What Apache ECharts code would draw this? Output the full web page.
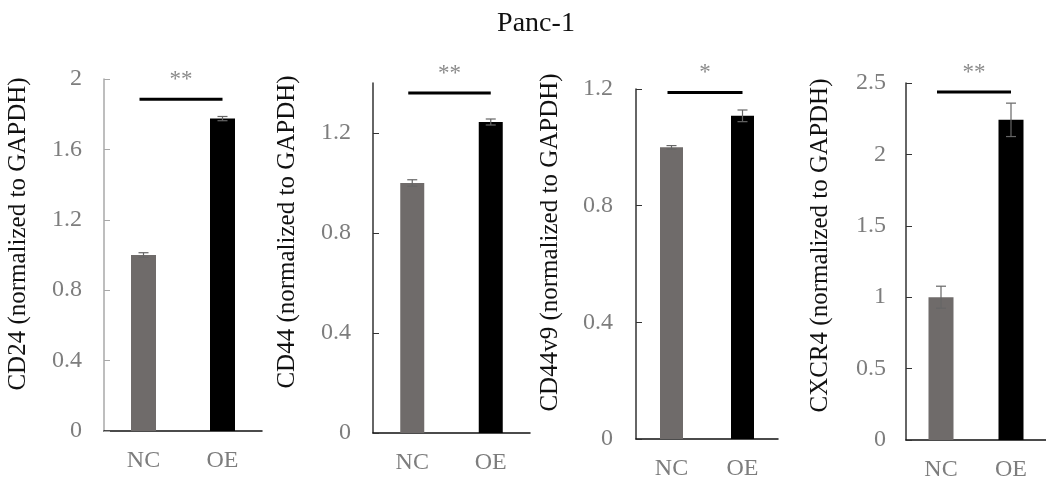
<!DOCTYPE html>
<html lang="en">
<head>
    <meta charset="UTF-8">
    <title>Panc-1</title>
    <script src="https://cdn.jsdelivr.net/npm/echarts@6/dist/echarts.min.js" type="text/javascript"></script>
</head>
<body style="margin:0;background:#fff;">
<div id="chart" style="width:1046px;height:482px;"></div>

<script>
    // data
    var categories = ['NC', 'OE'];
    var genes = ['CD24', 'CD44', 'CD44v9', 'CXCR4'];
    var ncMean = [1.0, 1.0, 1.0, 1.0];
    var oeMean = [1.775, 1.244, 1.108, 2.242];
    var ncErr = [0.013, 0.013, 0.006, 0.077];
    var oeErr = [0.012, 0.012, 0.02, 0.117];
    var sigY = [1.885, 1.36, 1.188, 2.437];
    var sigMark = ['**', '**', '*', '**'];
    var yMax = [2, 1.4, 1.2, 2.5];
    var yInterval = [0.4, 0.4, 0.4, 0.5];

    // panel layout (px)
    var grids = [
        {left: 104, top: 79, width: 158, height: 352},
        {left: 373, top: 83, width: 157, height: 350},
        {left: 636, top: 89, width: 142, height: 350},
        {left: 906, top: 83, width: 149, height: 359}
    ];
    var nameShift = [42, 52, 43, 32];
    var labelMargin = [22, 22, 23, 20];
    var barW = [25, 24, 23, 25];
    var yLineColor = ['#a8a8a8', '#333', '#333', '#333'];

    var serif = 'Liberation Serif';
    var tickGray = '#7d7d7d';

    var option = {
        animation: false,
        title: {
            text: 'Panc-1',
            left: 531,
            top: 5,
            textAlign: 'center',
            textStyle: {fontFamily: serif, fontWeight: 'normal', fontSize: 28, color: '#111'}
        },
        grid: [],
        xAxis: [],
        yAxis: [],
        series: []
    };

    genes.forEach(function (g, i) {
        option.grid.push(grids[i]);
        option.xAxis.push({
            type: 'category',
            gridIndex: i,
            data: categories,
            axisLine: {lineStyle: {color: '#111', width: 1.5}},
            axisTick: {inside: true, length: 6, lineStyle: {color: '#111'}},
            axisLabel: {fontFamily: serif, fontSize: 24, color: tickGray, margin: 18}
        });
        option.yAxis.push({
            type: 'value',
            gridIndex: i,
            min: 0,
            max: yMax[i],
            interval: yInterval[i],
            name: g + ' (normalized to GAPDH)',
            nameLocation: 'middle',
            nameGap: 73,
            nameTextStyle: {fontFamily: serif, fontSize: 25, color: '#111', padding: [0, 0, 0, nameShift[i]]},
            splitLine: {show: false},
            axisLine: {show: true, lineStyle: {color: yLineColor[i], width: 1.5}},
            axisTick: {show: true, inside: true, length: 6, lineStyle: {color: yLineColor[i]}},
            axisLabel: {
                fontFamily: serif, fontSize: 24, color: tickGray, margin: labelMargin[i],
                showMaxLabel: yMax[i] % yInterval[i] < 1e-9 || yInterval[i] - yMax[i] % yInterval[i] < 1e-9
            }
        });
        // bars
        option.series.push({
            type: 'bar',
            xAxisIndex: i,
            yAxisIndex: i,
            barWidth: barW[i],
            data: [
                {value: ncMean[i], itemStyle: {color: '#6f6b6a'}},
                {value: oeMean[i], itemStyle: {color: '#000'}}
            ]
        });
        // error bars
        option.series.push({
            type: 'custom',
            xAxisIndex: i,
            yAxisIndex: i,
            z: 5,
            data: [[0, ncMean[i], ncErr[i]], [1, oeMean[i], oeErr[i]]],
            renderItem: function (params, api) {
                var x = api.value(0), m = api.value(1), e = api.value(2);
                var hi = api.coord([x, m + e]);
                var lo = api.coord([x, m - e]);
                var cap = 5;
                var st = {stroke: '#666', lineWidth: 1.2};
                return {
                    type: 'group',
                    children: [
                        {type: 'line', shape: {x1: hi[0], y1: hi[1], x2: lo[0], y2: lo[1]}, style: st},
                        {type: 'line', shape: {x1: hi[0] - cap, y1: hi[1], x2: hi[0] + cap, y2: hi[1]}, style: st},
                        {type: 'line', shape: {x1: lo[0] - cap, y1: lo[1], x2: lo[0] + cap, y2: lo[1]}, style: st}
                    ]
                };
            }
        });
        // significance bracket
        option.series.push({
            type: 'custom',
            xAxisIndex: i,
            yAxisIndex: i,
            z: 6,
            data: [[0, 1, sigY[i]]],
            renderItem: function (params, api) {
                var a = api.coord([api.value(0), api.value(2)]);
                var b = api.coord([api.value(1), api.value(2)]);
                return {
                    type: 'group',
                    children: [
                        {type: 'line', shape: {x1: a[0] - 4, y1: a[1], x2: b[0], y2: b[1]},
                            style: {stroke: '#000', lineWidth: 3}},
                        {type: 'text', x: (a[0] + b[0]) / 2 - 2, y: a[1] - 8,
                            style: {text: sigMark[Math.floor(params.seriesIndex / 3)],
                                fontFamily: serif, fontSize: 23, fill: '#8a8a8a',
                                align: 'center', verticalAlign: 'bottom'}}
                    ]
                };
            }
        });
    });

    var chart = echarts.init(document.getElementById('chart'));
    chart.setOption(option);
</script>
</body>
</html>
